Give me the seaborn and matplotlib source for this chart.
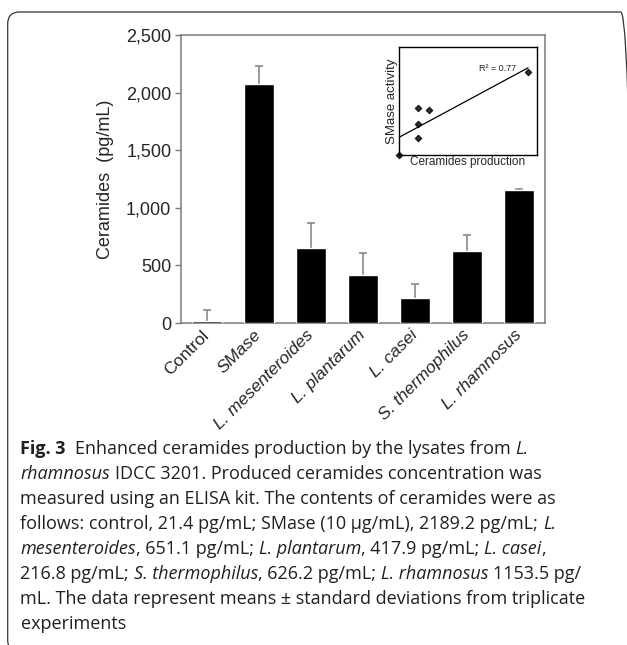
import numpy as np
import matplotlib
matplotlib.use("Agg")
import matplotlib.pyplot as plt
from matplotlib.patches import FancyBboxPatch
import seaborn as sns

# bar chart data
categories = ["Control", "SMase", "L. mesenteroides", "L. plantarum",
              "L. casei", "S. thermophilus", "L. rhamnosus"]
ceramides = [20, 2075, 648, 417, 220, 625, 1152]
ceramides_sd = [95, 158, 223, 188, 119, 136, 14]
y_ticks = [0, 500, 1000, 1500, 2000, 2500]
y_tick_labels = ["0", "500", "1,000", "1,500", "2,000", "2,500"]

# inset scatter (relative units, no ticks shown)
inset_ceramides = [0.0, 0.14, 0.14, 0.14, 0.218, 0.935]
inset_smase = [0.0, 0.154, 0.283, 0.437, 0.418, 0.766]
r2_label = "R\u00b2 = 0.77"

caption_lines = [
    [("Fig. 3", "b"), ("  Enhanced ceramides production by the lysates from ", "r"), ("L.", "i")],
    [("rhamnosus", "i"), (" IDCC 3201. Produced ceramides concentration was", "r")],
    [("measured using an ELISA kit. The contents of ceramides were as", "r")],
    [("follows: control, 21.4 pg/mL; SMase (10 \u00b5g/mL), 2189.2 pg/mL; ", "r"), ("L.", "i")],
    [("mesenteroides", "i"), (", 651.1 pg/mL; ", "r"), ("L. plantarum", "i"),
     (", 417.9 pg/mL; ", "r"), ("L. casei", "i"), (",", "r")],
    [("216.8 pg/mL; ", "r"), ("S. thermophilus", "i"), (", 626.2 pg/mL; ", "r"),
     ("L. rhamnosus", "i"), (" 1153.5 pg/", "r")],
    [("mL. The data represent means \u00b1 standard deviations from triplicate", "r")],
    [("experiments", "r")],
]

sns.set_style("ticks")
plt.rcParams["font.family"] = ["Liberation Sans", "DejaVu Sans"]

W, H = 627, 645
fig = plt.figure(figsize=(W / 100, H / 100), dpi=100)

# main bar chart
ax = fig.add_axes([181 / W, 1 - 323 / H, 364 / W, 288 / H])
sns.barplot(x=categories, y=ceramides, color="black", saturation=1,
            width=0.59, ax=ax, zorder=3)
ax.errorbar(np.arange(len(categories)), ceramides, yerr=ceramides_sd,
            fmt="none", ecolor="#808080", elinewidth=1.1, capsize=3,
            capthick=1.1, zorder=2)
ax.set_xlim(-0.5, len(categories) - 0.5)
ax.set_ylim(0, 2500)
for sp in ax.spines.values():
    sp.set_visible(True)
    sp.set_color("#7a7a7a")
    sp.set_linewidth(1.1)
ax.set_yticks(y_ticks)
ax.set_yticklabels(y_tick_labels, fontsize=13)
ax.tick_params(axis="y", length=4, width=1, color="#7a7a7a", pad=3)
ax.tick_params(axis="x", length=0, pad=7)
ax.set_xlabel("")
ax.set_ylabel("Ceramides  (pg/mL)", fontsize=13, labelpad=9)
for lbl, name in zip(ax.get_xticklabels(), categories):
    lbl.set_rotation(45)
    lbl.set_ha("right")
    lbl.set_va("center")
    lbl.set_rotation_mode("anchor")
    lbl.set_fontsize(12.5)
    if name != "Control":
        lbl.set_style("italic")

# inset regression
ax_in = fig.add_axes([399 / W, 1 - 155 / H, 138 / W, 108.3 / H])
ax_in.set_zorder(5)
sns.regplot(x=inset_ceramides, y=inset_smase, ci=None, truncate=True,
            marker="D", color="black", ax=ax_in,
            scatter_kws=dict(s=10, clip_on=False, zorder=6),
            line_kws=dict(lw=0.9))
ax_in.set_xlim(0, 1)
ax_in.set_ylim(0, 1)
ax_in.set_xticks([])
ax_in.set_yticks([])
for sp in ax_in.spines.values():
    sp.set_color("black")
    sp.set_linewidth(1)
ax_in.set_xlabel("Ceramides production", fontsize=8.5, labelpad=1)
ax_in.set_ylabel("SMase activity", fontsize=9.5, labelpad=1)
ax_in.text(0.58, 0.80, r2_label, fontsize=6.5, transform=ax_in.transAxes,
           va="center")

# caption with mixed styles
renderer = fig.canvas.get_renderer()
styles = {"b": dict(weight="bold"), "i": dict(style="italic"), "r": {}}


def text_width(s, **kw):
    t = fig.text(0, 0, s, **kw)
    w = t.get_window_extent(renderer).width
    t.remove()
    return w


for i, runs in enumerate(caption_lines):
    x = 20.5
    y = 454.5 + i * 24.9
    for s, st in runs:
        kw = dict(family=["Open Sans", "DejaVu Sans"], fontsize=13,
                  color="#231f20", **styles[st])
        sw = text_width("n n", **kw) - text_width("nn", **kw)
        core = s.strip(" ")
        lead = len(s) - len(s.lstrip(" "))
        trail = len(s) - len(s.rstrip(" "))
        x += lead * sw
        if core:
            t = fig.text(x / W, 1 - y / H, core, va="baseline", ha="left", **kw)
            x += t.get_window_extent(renderer).width
        x += trail * sw

# rounded frame of the figure panel
box = FancyBboxPatch((0.077, -0.07), 6.25, 6.40,
                     boxstyle="round,pad=0,rounding_size=0.12",
                     transform=fig.dpi_scale_trans, fill=False,
                     ec="#333333", lw=0.9)
fig.add_artist(box)

fig.savefig("out.png", dpi=100)
